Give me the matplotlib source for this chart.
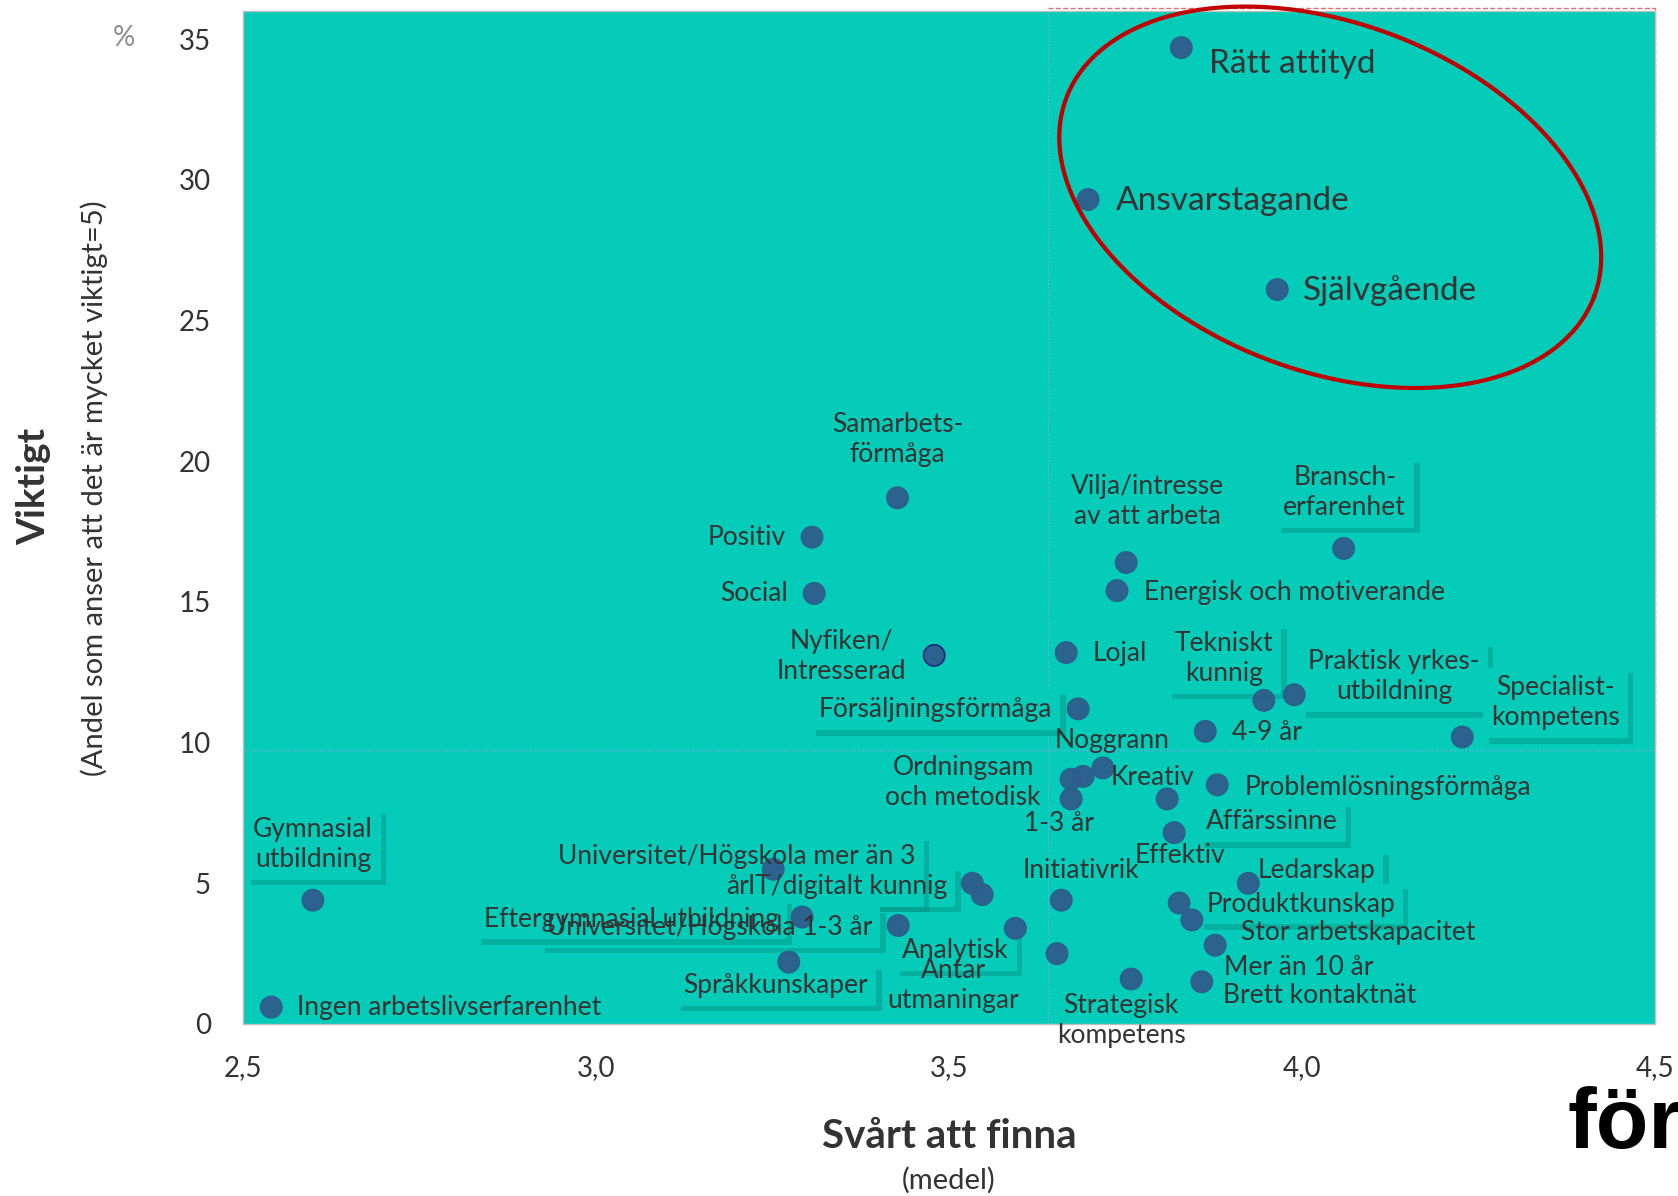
import matplotlib
matplotlib.use('Agg')
import matplotlib.pyplot as plt
import matplotlib.patheffects as pe
import numpy as np

plt.rcParams['font.family'] = ['Lato', 'DejaVu Sans']

# Egenskaper: svart att finna (medel) mot andel som anser att det ar mycket viktigt (%)
names = [
    'Rätt attityd', 'Ansvarstagande', 'Självgående',
    'Samarbets-\nförmåga', 'Positiv', 'Social', 'Nyfiken/\nIntresserad',
    'Vilja/intresse\nav att arbeta', 'Energisk och motiverande',
    'Bransch-\nerfarenhet', 'Lojal', 'Tekniskt\nkunnig',
    'Praktisk yrkes-\nutbildning', 'Försäljningsförmåga',
    'Specialist-\nkompetens', '4-9 år', 'Noggrann',
    'Ordningsam\noch metodisk', 'Kreativ', '1-3 år',
    'Problemlösningsförmåga', 'Affärssinne', 'Effektiv', 'Initiativrik',
    'Ledarskap', 'Produktkunskap', 'Stor arbetskapacitet', 'Mer än 10 år',
    'Brett kontaktnät', 'Strategisk\nkompetens', 'Antar\nutmaningar',
    'Analytisk', 'IT/digitalt kunnig', '',
    'Universitet/Högskola mer än 3\når', 'Universitet/Högskola 1-3 år',
    'Eftergymnasial utbildning', 'Språkkunskaper', 'Gymnasial\nutbildning',
    'Ingen arbetslivserfarenhet',
]
svart_att_finna = [
    3.829, 3.697, 3.965,
    3.427, 3.306, 3.309, 3.479,
    3.751, 3.738,
    4.059, 3.666, 3.946,
    3.989, 3.683,
    4.227, 3.863, 3.718,
    3.673, 3.690, 3.673,
    3.880, 3.809, 3.819, 3.659,
    3.924, 3.826, 3.844, 3.877,
    3.858, 3.758, 3.653,
    3.594, 3.533, 3.547,
    3.251, 3.428,
    3.292, 3.273, 2.599,
    2.540,
]
viktigt = [
    34.7, 29.3, 26.1,
    18.7, 17.3, 15.3, 13.1,
    16.4, 15.4,
    16.9, 13.2, 11.5,
    11.7, 11.2,
    10.2, 10.4, 9.1,
    8.7, 8.8, 8.0,
    8.5, 8.0, 6.8, 4.4,
    5.0, 4.3, 3.7, 2.8,
    1.5, 1.6, 2.5,
    3.4, 5.0, 4.6,
    5.5, 3.5,
    3.8, 2.2, 4.4,
    0.6,
]
x_ticks = [2.5, 3.0, 3.5, 4.0, 4.5]
x_tick_labels = ['2,5', '3,0', '3,5', '4,0', '4,5']
y_ticks = [0, 5, 10, 15, 20, 25, 30, 35]
medel_svart = 3.64
medel_viktigt = 9.73

highlighted = ['Rätt attityd', 'Ansvarstagande', 'Självgående']

# label placement: pixel offset (right, down) from the dot and alignment
label_pos = {
    'Rätt attityd': (28, 16, 'left'),
    'Ansvarstagande': (28, 1, 'left'),
    'Självgående': (26, 1, 'left'),
    'Samarbets-\nförmåga': (0, -58, 'center'),
    'Positiv': (-26, 0, 'right'),
    'Social': (-26, 0, 'right'),
    'Nyfiken/\nIntresserad': (-93, 1, 'center'),
    'Vilja/intresse\nav att arbeta': (21, -61, 'center'),
    'Energisk och motiverande': (27, 2, 'left'),
    'Bransch-\nerfarenhet': (1, -56, 'center'),
    'Lojal': (26, 1, 'left'),
    'Tekniskt\nkunnig': (-40, -42, 'center'),
    'Praktisk yrkes-\nutbildning': (100, -18, 'center'),
    'Försäljningsförmåga': (-26, 1, 'right'),
    'Specialist-\nkompetens': (93, -34, 'center'),
    '4-9 år': (27, 1, 'left'),
    'Noggrann': (9, -27, 'center'),
    'Ordningsam\noch metodisk': (-108, 3, 'center'),
    'Kreativ': (27, 1, 'left'),
    '1-3 år': (-12, 25, 'center'),
    'Problemlösningsförmåga': (27, 3, 'left'),
    'Affärssinne': (39, 23, 'left'),
    'Effektiv': (6, 23, 'center'),
    'Initiativrik': (20, -30, 'center'),
    'Ledarskap': (9, -13, 'left'),
    'Produktkunskap': (27, 1, 'left'),
    'Stor arbetskapacitet': (49, 13, 'left'),
    'Mer än 10 år': (9, 22, 'left'),
    'Brett kontaktnät': (21, 14, 'left'),
    'Strategisk\nkompetens': (-10, 42, 'center'),
    'Antar\nutmaningar': (-104, 32, 'center'),
    'Analytisk': (-60, 22, 'center'),
    'IT/digitalt kunnig': (-25, 3, 'right'),
    'Universitet/Högskola mer än 3\når': (-36, 2, 'center'),
    'Universitet/Högskola 1-3 år': (-26, 2, 'right'),
    'Eftergymnasial utbildning': (-171, 2, 'center'),
    'Språkkunskaper': (-13, 23, 'center'),
    'Gymnasial\nutbildning': (0, -56, 'center'),
    'Ingen arbetslivserfarenhet': (26, 0, 'left'),
}
boxed = ['Bransch-\nerfarenhet', 'Tekniskt\nkunnig', 'Praktisk yrkes-\nutbildning',
         'Försäljningsförmåga', 'Specialist-\nkompetens', 'Affärssinne', 'Ledarskap',
         'Produktkunskap', 'Analytisk', 'IT/digitalt kunnig',
         'Universitet/Högskola mer än 3\når', 'Universitet/Högskola 1-3 år',
         'Eftergymnasial utbildning', 'Språkkunskaper', 'Gymnasial\nutbildning']

bg = '#05CCB8'
dot = '#2E5E8C'
txt = '#333333'

W, H = 1678, 1196
fig = plt.figure(figsize=(W / 100, H / 100), dpi=100)
ax = fig.add_axes([243 / W, 1 - 1024 / H, (1655 - 243) / W, (1024 - 11) / H])
ax.set_facecolor(bg)
ax.set_xlim(2.5, 4.5)
ax.set_ylim(0, 36)
ax.set_xticks(x_ticks)
ax.set_xticklabels(x_tick_labels)
ax.set_yticks(y_ticks)
ax.tick_params(length=0, labelsize=20, colors=txt)
ax.tick_params(axis='x', pad=22)
ax.tick_params(axis='y', pad=23)
for s in ax.spines.values():
    s.set_color('#BFBFBF')
    s.set_linewidth(1)

# mean lines and the upper right quadrant
ax.axvline(medel_svart, color='#7FA6E8', lw=1, ls=':', zorder=1)
ax.axhline(medel_viktigt, color='#7FA6E8', lw=1, ls=':', zorder=1)
ax.plot([medel_svart, 4.5, 4.5], [36.1, 36.1, medel_viktigt], color='#E07070',
        lw=1, ls='--', clip_on=False, zorder=1)

edges = ['#1A237E' if n.startswith('Nyfiken') else dot for n in names]
ax.scatter(svart_att_finna, viktigt, s=235, color=dot, edgecolors=edges,
           linewidths=1.2, alpha=0.95, zorder=3)

shadow = [pe.withSimplePatchShadow(offset=(4, -4), shadow_rgbFace='#03917F', alpha=0.45),
          pe.Normal()]
for name, x, y in zip(names, svart_att_finna, viktigt):
    if not name:
        continue
    dx, dy, ha = label_pos[name]
    size = 24 if name in highlighted else 19
    kw = dict(xy=(x, y), xytext=(dx, -dy), textcoords='offset pixels', ha=ha,
              va='center', fontsize=size, linespacing=1.25, annotation_clip=False)
    if name in boxed:
        b = ax.annotate(name, color='none', zorder=2,
                        bbox=dict(boxstyle='square,pad=0.3', fc=bg, ec='none'), **kw)
        b.get_bbox_patch().set_path_effects(shadow)
    ax.annotate(name, color=txt, zorder=4, **kw)

# red ellipse around the top three
px_x = (1655 - 243) / 2.0
px_y = (1024 - 11) / 36.0
t = np.linspace(0, 2 * np.pi, 400)
a, b, phi = 282, 174, np.deg2rad(-20.6)
u, v = a * np.cos(t), b * np.sin(t)
ex = 4.04 + (u * np.cos(phi) - v * np.sin(phi)) / px_x
ey = 29.38 + (u * np.sin(phi) + v * np.cos(phi)) / px_y
ax.plot(ex, ey, color='#C00000', lw=3, clip_on=False, zorder=5)

# axis titles
fig.text(0.020, 0.593, 'Viktigt', rotation=90, fontsize=28, fontweight='bold',
         color=txt, ha='center', va='center')
fig.text(0.056, 0.592, '(Andel som anser att det är mycket viktigt=5)', rotation=90,
         fontsize=21, color=txt, ha='center', va='center')
fig.text(0.074, 0.968, '%', fontsize=20, color='#8C8C8C', ha='center', va='center')
fig.text(0.5655, 0.050, 'Svårt att finna', fontsize=29, fontweight='bold',
         color=txt, ha='center', va='center')
fig.text(0.5655, 0.013, '(medel)', fontsize=21, color=txt, ha='center', va='center')
fig.text(0.934, 1 - 1148 / H, 'för', fontsize=62, fontweight='bold', color='black',
         family='Liberation Sans', ha='left', va='baseline')

fig.savefig('out.png', dpi=100)
